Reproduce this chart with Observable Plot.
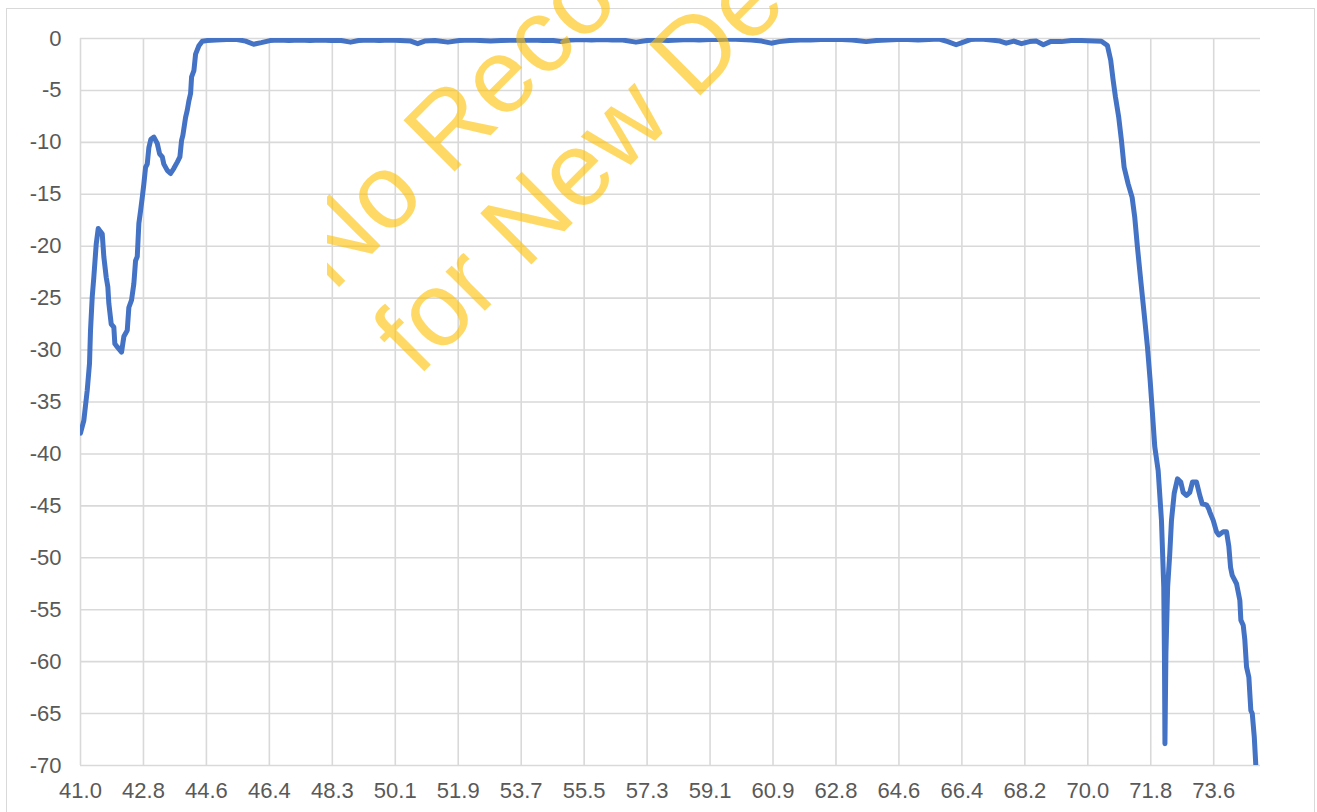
<!DOCTYPE html>
<html>
<head>
<meta charset="utf-8">
<script src="https://cdn.jsdelivr.net/npm/d3@7"></script>
<script src="https://cdn.jsdelivr.net/npm/@observablehq/plot@0.6"></script>
<style>
  html, body { margin: 0; padding: 0; background: #ffffff; overflow: hidden; }
  #frame { position: absolute; left: 6px; top: 8px; width: 1309px; height: 900px; box-sizing: border-box; border: 1px solid #d9d9d9; }
  #chart { position: absolute; left: 0; top: 0; }
</style>
</head>
<body>
<div id="frame"></div>
<div id="chart"></div>
<script>
// ---- data ----
const freqMHz = [
  41.000, 41.095, 41.193, 41.259, 41.288, 41.337, 41.383, 41.452, 41.510, 41.576,
  41.625, 41.671, 41.740, 41.786, 41.815, 41.884, 41.959, 41.988, 42.057, 42.181,
  42.247, 42.345, 42.391, 42.468, 42.535, 42.584, 42.633, 42.679, 42.728, 42.777,
  42.823, 42.872, 42.920, 42.967, 43.024, 43.111, 43.208, 43.275, 43.352, 43.398,
  43.496, 43.591, 43.686, 43.784, 43.859, 43.908, 43.946, 44.023, 44.072, 44.118,
  44.167, 44.196, 44.262, 44.311, 44.406, 44.504,
  44.65, 44.9, 45.2, 45.5, 45.75, 45.98, 46.2, 46.45, 46.7, 47.0,
  47.3, 47.6, 47.9, 48.2, 48.5, 48.77, 49.0, 49.3, 49.6, 49.9,
  50.2, 50.5, 50.7, 50.9, 51.2, 51.57, 51.9, 52.2, 52.5, 52.8,
  53.1, 53.4, 53.7, 54.0, 54.3, 54.6, 54.85, 55.1, 55.4, 55.7,
  56.0, 56.3, 56.6, 56.98, 57.3, 57.6, 57.9, 58.2, 58.5, 58.8,
  59.1, 59.4, 59.7, 60.0, 60.3, 60.6, 60.87, 61.1, 61.4, 61.7,
  62.0, 62.3, 62.6, 62.9, 63.2, 63.6, 63.9, 64.2, 64.5, 64.8,
  65.1, 65.4, 65.7, 65.95, 66.19, 66.4, 66.6, 66.9, 67.2, 67.45,
  67.63, 67.85, 68.07, 68.3, 68.5, 68.70, 68.9, 69.22, 69.5, 69.793,
  70.369, 70.542, 70.637, 70.706, 70.772, 70.868, 70.945, 71.023, 71.138, 71.253,
  71.328, 71.406, 71.501, 71.599, 71.694, 71.771, 71.838, 71.904, 72.002, 72.097,
  72.163, 72.183, 72.197, 72.225, 72.275, 72.336, 72.385, 72.463, 72.558, 72.653,
  72.722, 72.817, 72.912, 72.990, 73.105, 73.200, 73.269, 73.393, 73.459, 73.488,
  73.586, 73.681, 73.747, 73.874, 73.969, 74.035, 74.084, 74.133, 74.257, 74.352,
  74.381, 74.449, 74.495, 74.544, 74.611, 74.668, 74.709, 74.766, 74.813, 74.840
];
const gainDb = [
  -38.0, -36.8, -33.9, -31.3, -28.1, -24.9, -23.0, -19.8, -18.3, -18.6,
  -18.8, -21.0, -23.0, -23.9, -25.5, -27.5, -27.8, -29.4, -29.7, -30.2,
  -28.7, -28.1, -25.9, -25.2, -23.6, -21.4, -21.0, -17.8, -16.6, -15.3,
  -14.0, -12.4, -12.1, -10.5, -9.7, -9.5, -10.1, -11.1, -11.4, -12.1,
  -12.7, -13.0, -12.5, -11.9, -11.4, -9.8, -9.3, -7.6, -6.9, -6.0,
  -5.3, -3.7, -3.1, -1.5, -0.7, -0.26,
  -0.2, -0.15, -0.1, -0.1, -0.25, -0.55, -0.4, -0.2, -0.15, -0.2,
  -0.15, -0.2, -0.15, -0.2, -0.2, -0.35, -0.2, -0.15, -0.2, -0.15,
  -0.2, -0.25, -0.5, -0.25, -0.2, -0.35, -0.2, -0.15, -0.2, -0.25,
  -0.2, -0.15, -0.2, -0.15, -0.2, -0.2, -0.3, -0.15, -0.1, -0.15,
  -0.1, -0.15, -0.15, -0.35, -0.2, -0.15, -0.2, -0.15, -0.1, -0.15,
  -0.1, -0.1, -0.05, -0.1, -0.15, -0.25, -0.45, -0.3, -0.2, -0.15,
  -0.15, -0.1, -0.1, -0.1, -0.15, -0.3, -0.2, -0.15, -0.1, -0.1,
  -0.15, -0.1, -0.05, -0.3, -0.6, -0.35, -0.1, -0.05, -0.15, -0.25,
  -0.45, -0.25, -0.5, -0.3, -0.25, -0.6, -0.3, -0.3, -0.2, -0.2,
  -0.26, -0.67, -2.1, -4.0, -5.6, -7.6, -9.8, -12.4, -14.0, -15.3,
  -17.2, -20.1, -23.3, -26.5, -29.7, -32.9, -36.1, -39.3, -41.6, -46.4,
  -52.8, -59.5, -67.9, -59.2, -52.8, -49.6, -46.4, -43.8, -42.4, -42.7,
  -43.7, -44.0, -43.7, -42.7, -42.7, -44.0, -44.8, -44.9, -45.3, -45.6,
  -46.4, -47.5, -47.8, -47.5, -47.5, -48.9, -50.9, -51.7, -52.5, -54.1,
  -56.0, -56.5, -57.9, -60.5, -61.5, -64.7, -65.0, -67.2, -70.1, -71.5
];
const xTickLabels = ["41.0","42.8","44.6","46.4","48.3","50.1","51.9","53.7","55.5","57.3",
                     "59.1","60.9","62.8","64.6","66.4","68.2","70.0","71.8","73.6"];
const yTickValues = [0, -5, -10, -15, -20, -25, -30, -35, -40, -45, -50, -55, -60, -65, -70];
const watermarkLines = ["No Recommend", "for New Design"];

// ---- build ----
const xStep = (73.6 - 41.0) / (xTickLabels.length - 1);
const xTickPositions = xTickLabels.map((_, i) => 41.0 + i * xStep);
const series = freqMHz.map((f, i) => ({f, g: gainDb[i]}));

const svg = Plot.plot({
  width: 1317,
  height: 812,
  marginLeft: 80,
  marginRight: 57,
  marginTop: 38,
  marginBottom: 47,
  style: {fontFamily: "'Liberation Sans', Arial, sans-serif", fontSize: "22px", color: "#595959", background: "transparent"},
  x: {domain: [41, 74.946], ticks: xTickPositions, tickFormat: d => xTickLabels[Math.round((d - 41) / xStep)], tickSize: 0, tickPadding: 17, label: null},
  y: {domain: [-70, 0], ticks: yTickValues, tickFormat: d => String(d), tickSize: 0, tickPadding: 19, label: null},
  marks: [
    Plot.ruleY(yTickValues, {stroke: "#d9d9d9", strokeWidth: 1.6}),
    Plot.ruleX(xTickPositions, {stroke: "#d9d9d9", strokeWidth: 1.6}),
    Plot.line(series, {x: "f", y: "g", stroke: "#4472C4", strokeWidth: 5, strokeLinejoin: "round", strokeLinecap: "round", clip: true})
  ]
});
document.getElementById("chart").appendChild(svg);

// watermark overlay (clipped on its left side as in the reference)
const s = d3.select(svg);
const defs = s.append("defs");
defs.append("clipPath").attr("id", "wmclip")
  .append("rect").attr("x", 327).attr("y", 0).attr("width", 990).attr("height", 812);
const wmOuter = s.append("g").attr("clip-path", "url(#wmclip)");
const wm = wmOuter.append("g")
  .attr("transform", "translate(333,293) rotate(-45)")
  .attr("fill", "#FFC000").attr("fill-opacity", 0.6)
  .attr("text-anchor", "start")
  .style("font-family", "'Liberation Sans', Arial, sans-serif").style("font-size", "105px");
wm.selectAll("text").data(watermarkLines).join("text")
  .attr("text-anchor", "start")
  .attr("x", 0).attr("y", (d, i) => i * 120)
  .text(d => d);
</script>
</body>
</html>
